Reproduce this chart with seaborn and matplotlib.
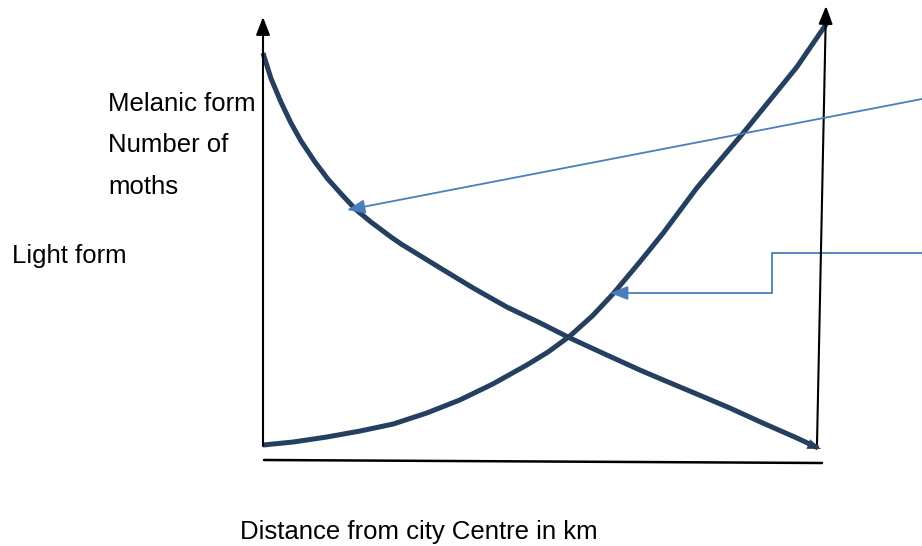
import matplotlib
matplotlib.use("Agg")
import matplotlib.pyplot as plt
import seaborn as sns
import pandas as pd

# ---- data (distance in km, number of moths, arbitrary units) ----
melanic_dist = [0.00, 0.14, 0.32, 0.50, 0.68, 0.93, 1.16, 1.40, 1.65, 1.93, 2.29, 2.47,
                3.17, 3.76, 4.36, 4.96, 5.49, 6.15, 6.74, 7.16, 7.76, 8.35, 8.94, 9.55, 9.93]
melanic_num = [93.33, 87.38, 81.67, 76.67, 72.38, 67.38, 63.33, 59.76, 56.19, 53.10, 49.52, 47.86,
               42.14, 37.38, 32.86, 29.05, 25.48, 21.43, 17.86, 15.48, 12.14, 8.81, 5.24, 1.67, -0.71]
light_dist = [0.00, 0.54, 1.14, 1.74, 2.33, 2.93, 3.52, 4.11, 4.72, 5.10, 5.49, 5.89,
              6.26, 6.74, 7.16, 7.76, 8.18, 8.59, 9.07, 9.55, 10.09]
light_num = [0.00, 0.71, 1.90, 3.33, 5.00, 7.62, 10.71, 14.52, 19.05, 22.14, 25.95, 30.71,
             35.95, 43.57, 50.48, 61.19, 67.86, 74.29, 82.14, 90.00, 100.48]

x_label = "Distance from city Centre in km"
y_label_lines = ["Melanic form", "Number of", "moths"]
light_label = "Light form"

sns.set_theme(style="white")
plt.rcParams['font.family'] = ['Liberation Sans', 'DejaVu Sans']

df = pd.concat([
    pd.DataFrame({"dist": melanic_dist, "num": melanic_num, "form": "Melanic"}),
    pd.DataFrame({"dist": light_dist, "num": light_num, "form": "Light"}),
], ignore_index=True)

fig = plt.figure(figsize=(9.22, 5.46), dpi=100)
ax = fig.add_axes([0, 0, 1, 1])
PX, PY = 55.9, 4.2
def px(x, y):
    return ((x - 263) / PX, (445 - y) / PY)

ax.set_xlim(px(0, 0)[0], px(922, 0)[0])
ax.set_ylim(px(0, 546)[1], px(0, 0)[1])
ax.axis("off")

navy = "#243F60"
blue = "#4A7EBB"

sns.lineplot(data=df, x="dist", y="num", hue="form", units="form", estimator=None,
             sort=False, palette={"Melanic": navy, "Light": navy}, linewidth=3.6,
             legend=False, ax=ax, solid_capstyle="butt", solid_joinstyle="round")

# axes lines with arrows
ax.annotate("", xy=px(263, 17), xytext=px(263, 446),
            arrowprops=dict(arrowstyle="-|>,head_length=0.9,head_width=0.35", color="black", lw=1.5,
                            shrinkA=0, shrinkB=0))
ax.annotate("", xy=px(826, 6), xytext=px(817, 444),
            arrowprops=dict(arrowstyle="-|>,head_length=0.9,head_width=0.35", color="black", lw=1.5,
                            shrinkA=0, shrinkB=0))
bx0, by0 = px(264, 460)
bx1, by1 = px(822, 463)
ax.plot([bx0, bx1], [by0, by1], color="black", lw=1.8)

# small arrowhead at the end of the falling curve
ax.annotate("", xy=px(821, 449), xytext=px(790, 437),
            arrowprops=dict(arrowstyle="-|>,head_length=0.8,head_width=0.3", color=navy, lw=0.1,
                            shrinkA=0, shrinkB=0))

# annotation arrows
ax.annotate("", xy=px(347, 210), xytext=px(922, 99),
            arrowprops=dict(arrowstyle="-|>,head_length=0.9,head_width=0.35", color=blue, lw=1.3,
                            shrinkA=0, shrinkB=0))
p = [px(922, 253), px(772, 253), px(772, 293)]
ax.plot([q[0] for q in p], [q[1] for q in p], color=blue, lw=1.3, solid_joinstyle="miter")
ax.annotate("", xy=px(610, 293), xytext=px(772, 293),
            arrowprops=dict(arrowstyle="-|>,head_length=0.9,head_width=0.35", color=blue, lw=1.3,
                            shrinkA=0, shrinkB=0))

fs = 18.5
baselines = [111, 152, 194]
for t, b in zip(y_label_lines, baselines):
    ax.text(*px(108, b), t, fontsize=fs, va="baseline", ha="left", color="black")
ax.text(*px(12, 263), light_label, fontsize=fs, va="baseline", ha="left", color="black")
ax.text(*px(240, 539), x_label, fontsize=fs, va="baseline", ha="left", color="black")

fig.savefig("out.png", dpi=100)
